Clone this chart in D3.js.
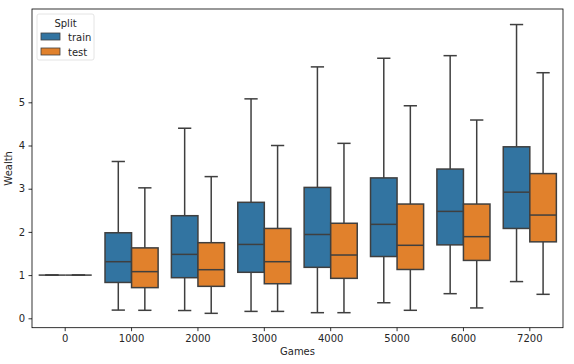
<!DOCTYPE html>
<html>
<head>
<meta charset="utf-8">
<script src="https://cdn.jsdelivr.net/npm/d3@7"></script>
<style>
  body { margin: 0; background: #fff; }
  text { font-family: "DejaVu Sans", sans-serif; }
</style>
</head>
<body>
<svg width="574" height="364"></svg>
<script>
const svg = d3.select("svg");

// DATA
const games = ["0", "1000", "2000", "3000", "4000", "5000", "6000", "7200"];
const splits = ["train", "test"];
const yTicks = [0, 1, 2, 3, 4, 5];

const trainLow  = [1, 0.19, 0.18, 0.16, 0.13, 0.36, 0.57, 0.85];
const trainQ1   = [1, 0.83, 0.94, 1.065, 1.18, 1.43, 1.70, 2.08];
const trainMed  = [1, 1.31, 1.48, 1.71, 1.94, 2.175, 2.475, 2.92];
const trainQ3   = [1, 1.98, 2.375, 2.685, 3.03, 3.25, 3.455, 3.97];
const trainHigh = [1, 3.63, 4.40, 5.08, 5.82, 6.02, 6.08, 6.80];

const testLow  = [1, 0.185, 0.115, 0.16, 0.13, 0.185, 0.24, 0.555];
const testQ1   = [1, 0.71, 0.74, 0.80, 0.925, 1.13, 1.34, 1.77];
const testMed  = [1, 1.08, 1.125, 1.31, 1.465, 1.69, 1.89, 2.39];
const testQ3   = [1, 1.63, 1.75, 2.08, 2.20, 2.645, 2.645, 3.35];
const testHigh = [1, 3.02, 3.28, 4.00, 4.05, 4.92, 4.59, 5.685];

// CONSTANTS
const width = 574, height = 364;
const margin = { top: 9, left: 32, right: 11, bottom: 36.3 };
const innerWidth = width - margin.left - margin.right;
const innerHeight = height - margin.top - margin.bottom;
const colors = { train: "#3274a1", test: "#e1812c" };
const edge = "#3f3f3f";

const boxes = [];
games.forEach((g, i) => {
  boxes.push({ game: g, split: "train", lo: trainLow[i], q1: trainQ1[i], med: trainMed[i], q3: trainQ3[i], hi: trainHigh[i] });
  boxes.push({ game: g, split: "test", lo: testLow[i], q1: testQ1[i], med: testMed[i], q3: testQ3[i], hi: testHigh[i] });
});

// SCALES
const xScale = d3.scaleBand().domain(games).range([0, innerWidth]).padding(0);
const hueScale = d3.scaleBand().domain(splits)
  .range([xScale.bandwidth() * 0.1, xScale.bandwidth() * 0.9]);
const yScale = d3.scaleLinear().domain([-0.2176, 7.16]).range([innerHeight, 0]);

const g = svg.append("g").attr("transform", `translate(${margin.left}, ${margin.top})`);

// axes
const xAxis = g.append("g")
  .attr("transform", `translate(0, ${innerHeight})`)
  .call(d3.axisBottom(xScale).tickSizeOuter(0).tickSize(3.5).tickPadding(3.5));
const yAxis = g.append("g")
  .call(d3.axisLeft(yScale).tickValues(yTicks).tickFormat(d3.format("d")).tickSizeOuter(0).tickSize(3.5).tickPadding(3.5));

[xAxis, yAxis].forEach(a => {
  a.select(".domain").remove();
  a.selectAll("line").attr("stroke", "#000").attr("stroke-width", 0.8);
  a.selectAll("text").attr("font-size", 10).attr("fill", "#262626")
    .attr("font-family", "DejaVu Sans, sans-serif");
});

// boxes
const bw = hueScale.bandwidth();
const groups = g.selectAll("g.box").data(boxes).enter().append("g")
  .attr("class", "box")
  .attr("transform", d => `translate(${xScale(d.game) + hueScale(d.split)}, 0)`);

groups.append("line") // lower whisker
  .attr("x1", bw / 2).attr("x2", bw / 2)
  .attr("y1", d => yScale(d.q1)).attr("y2", d => yScale(d.lo));
groups.append("line") // upper whisker
  .attr("x1", bw / 2).attr("x2", bw / 2)
  .attr("y1", d => yScale(d.q3)).attr("y2", d => yScale(d.hi));
groups.append("line") // lower cap
  .attr("x1", bw / 4).attr("x2", bw * 3 / 4)
  .attr("y1", d => yScale(d.lo)).attr("y2", d => yScale(d.lo));
groups.append("line") // upper cap
  .attr("x1", bw / 4).attr("x2", bw * 3 / 4)
  .attr("y1", d => yScale(d.hi)).attr("y2", d => yScale(d.hi));
groups.selectAll("line").attr("stroke", edge).attr("stroke-width", 1.5);

groups.append("rect")
  .attr("x", 0).attr("width", bw)
  .attr("y", d => yScale(d.q3))
  .attr("height", d => yScale(d.q1) - yScale(d.q3))
  .attr("fill", d => colors[d.split])
  .attr("stroke", edge).attr("stroke-width", 1.5);
groups.append("line")
  .attr("x1", 0).attr("x2", bw)
  .attr("y1", d => yScale(d.med)).attr("y2", d => yScale(d.med))
  .attr("stroke", edge).attr("stroke-width", 1.5);

// frame
g.append("rect")
  .attr("width", innerWidth).attr("height", innerHeight)
  .attr("fill", "none").attr("stroke", "#000").attr("stroke-width", 0.8);

// axis labels
g.append("text")
  .attr("x", innerWidth / 2).attr("y", innerHeight + 27)
  .attr("text-anchor", "middle").attr("font-size", 10).attr("fill", "#262626")
  .text("Games");
g.append("text")
  .attr("transform", `translate(${-20}, ${innerHeight / 2}) rotate(-90)`)
  .attr("text-anchor", "middle").attr("font-size", 10).attr("fill", "#262626")
  .text("Wealth");

// legend
const legend = g.append("g").attr("transform", "translate(5, 5)");
legend.append("rect")
  .attr("width", 57).attr("height", 46).attr("rx", 2)
  .attr("fill", "#fff").attr("fill-opacity", 0.8)
  .attr("stroke", "#ddd").attr("stroke-width", 0.8);
legend.append("text")
  .attr("x", 28.5).attr("y", 13)
  .attr("text-anchor", "middle").attr("font-size", 10).attr("fill", "#262626")
  .text("Split");
const items = legend.selectAll("g.item").data(splits).enter().append("g")
  .attr("class", "item")
  .attr("transform", (d, i) => `translate(4, ${19 + i * 15})`);
items.append("rect")
  .attr("width", 19).attr("height", 7)
  .attr("fill", d => colors[d]).attr("stroke", edge).attr("stroke-width", 0.8);
items.append("text")
  .attr("x", 27).attr("y", 7.5)
  .attr("font-size", 10).attr("fill", "#262626")
  .text(d => d);
</script>
</body>
</html>
